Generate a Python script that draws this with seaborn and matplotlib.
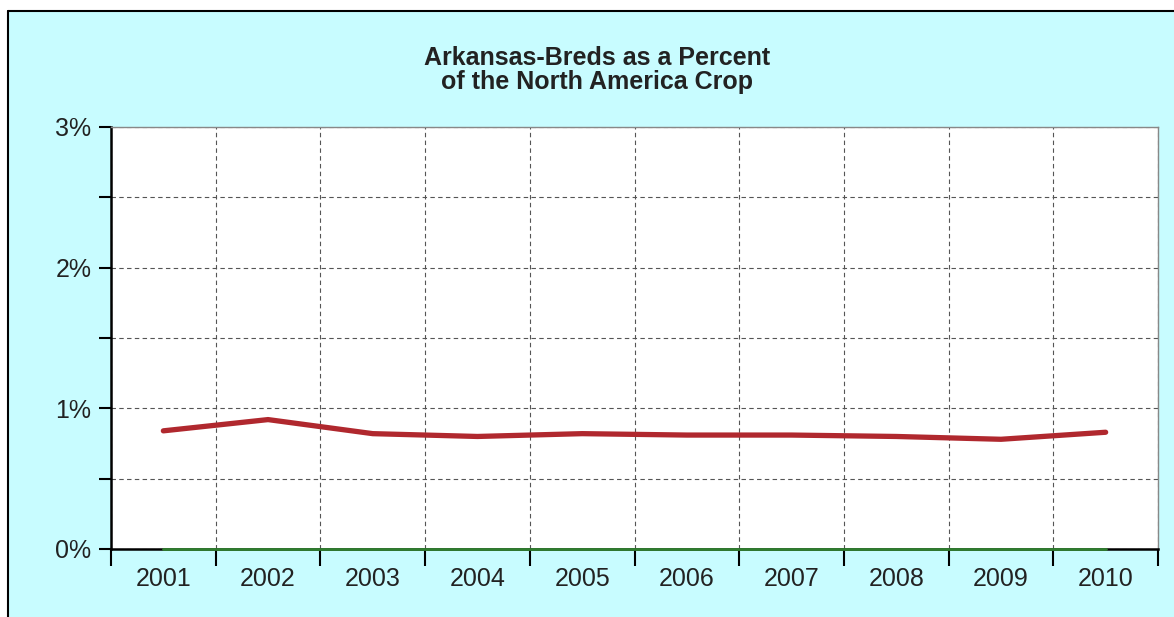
import numpy as np
import pandas as pd
import matplotlib
matplotlib.use('Agg')
import matplotlib.pyplot as plt
import seaborn as sns
from matplotlib.patches import Rectangle
from matplotlib.ticker import FixedLocator, FuncFormatter

# Datos
years = ['2001', '2002', '2003', '2004', '2005', '2006', '2007', '2008', '2009', '2010']
ark_pct = [0.84, 0.92, 0.82, 0.80, 0.82, 0.81, 0.81, 0.80, 0.78, 0.83]
base_pct = [0, 0, 0, 0, 0, 0, 0, 0, 0, 0]
title = 'Arkansas-Breds as a Percent\nof the North America Crop'

df = pd.DataFrame({'idx': range(len(years)), 'year': years, 'ark': ark_pct, 'base': base_pct})

sns.set_style('white')
plt.rcParams['font.family'] = ['Liberation Sans', 'DejaVu Sans']

fig = plt.figure(figsize=(11.74, 6.17), dpi=100)
fig.patch.set_facecolor('white')

# fondo cian con borde superior e izquierdo
fig.patches.append(Rectangle((8 / 1174, 0), 1, 1 - 11 / 617, transform=fig.transFigure,
                             facecolor='#c8fcff', edgecolor='none', zorder=-2))
fig.lines.append(plt.Line2D([8 / 1174, 1], [1 - 11 / 617] * 2, transform=fig.transFigure,
                            color='black', lw=1.5, zorder=-1))
fig.lines.append(plt.Line2D([8 / 1174] * 2, [0, 1 - 11 / 617], transform=fig.transFigure,
                            color='black', lw=1.5, zorder=-1))

ax = fig.add_axes([111 / 1174, 1 - 549 / 617, (1158 - 111) / 1174, (549 - 127) / 617])
ax.set_facecolor('white')

sns.lineplot(data=df, x='idx', y='base', color='#2f7d2f', lw=2, ax=ax, zorder=5, clip_on=False)
sns.lineplot(data=df, x='idx', y='ark', color='#b0282e', lw=3.8, ax=ax, zorder=4)

ax.set_xlim(-0.5, len(years) - 0.5)
ax.set_ylim(0, 3)

# eje x: marcas en los limites, etiquetas en el centro
ax.xaxis.set_major_locator(FixedLocator(np.arange(-0.5, len(years), 1.0)))
ax.xaxis.set_minor_locator(FixedLocator(np.arange(len(years))))
ax.set_xticklabels([])
ax.set_xticklabels(years, minor=True)
ax.tick_params(axis='x', which='major', direction='out', length=12, width=1.5, color='black', bottom=True)
ax.tick_params(axis='x', which='minor', length=0, labelsize=18, pad=13, labelcolor='#222222', bottom=True)

# eje y
ax.yaxis.set_major_locator(FixedLocator([0, 1, 2, 3]))
ax.yaxis.set_minor_locator(FixedLocator([0.5, 1.5, 2.5]))
ax.yaxis.set_major_formatter(FuncFormatter(lambda v, p: f'{int(v)}%'))
ax.tick_params(axis='y', which='both', direction='out', length=9, width=1.5, color='black', left=True,
               labelsize=18, pad=5, labelcolor='#222222')

ax.grid(True, which='both', axis='y', color='#555555', ls=(0, (4, 3)), lw=0.8)
ax.grid(True, which='major', axis='x', color='#555555', ls=(0, (4, 3)), lw=0.8)
ax.set_axisbelow(True)

for s in ['left', 'bottom']:
    ax.spines[s].set_color('black')
    ax.spines[s].set_linewidth(1.8)
for s in ['top', 'right']:
    ax.spines[s].set_color('#888888')
    ax.spines[s].set_linewidth(1)

ax.set_xlabel('')
ax.set_ylabel('')

fig.text(597 / 1174, 1 - 70 / 617, title, ha='center', va='center', fontsize=18,
         fontweight='bold', color='#222222', linespacing=1.0)

fig.savefig('out.png', dpi=100, facecolor='white')
